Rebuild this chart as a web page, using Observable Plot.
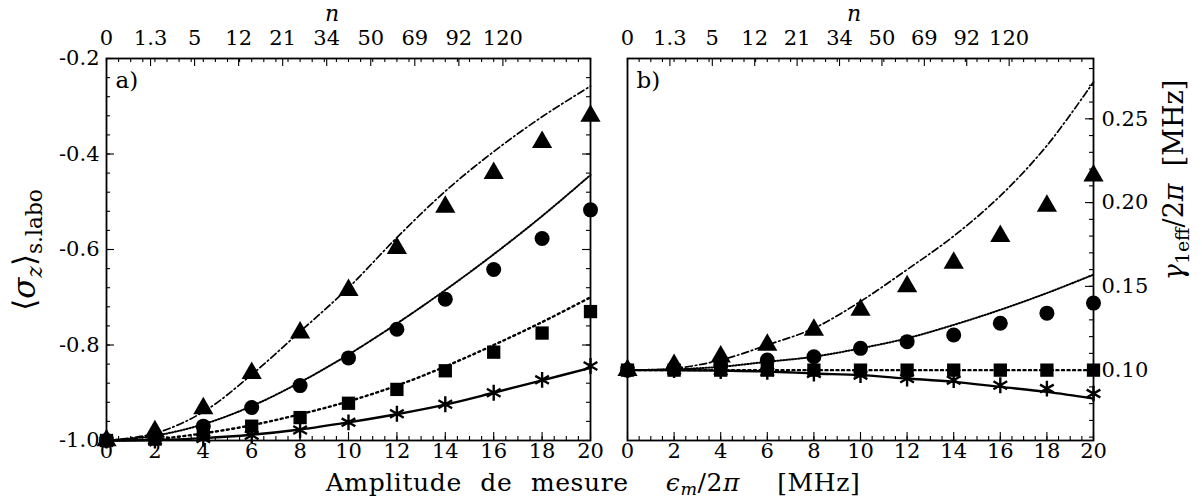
<!DOCTYPE html>
<html><head><meta charset="utf-8">
<script src="https://cdn.jsdelivr.net/npm/d3@7"></script>
<script src="https://cdn.jsdelivr.net/npm/@observablehq/plot@0.6"></script>
<style>
body{margin:0;background:#fff;}
#wrap{position:relative;width:1202px;height:498px;font-family:"DejaVu Serif",serif;color:#000;overflow:hidden;}
.abs{position:absolute;white-space:nowrap;line-height:1;}
.panel{position:absolute;top:0;}
.sb{font-size:0.7em;position:relative;top:0.2em;}
</style></head><body><div id="wrap"></div>
<script>
// ---- data ----
const eps = [0, 2, 4, 6, 8, 10, 12, 14, 16, 18, 20];
const nLabels = ["0", "1.3", "5", "12", "21", "34", "50", "69", "92", "120"];
const nPos = [0, 1.82, 3.64, 5.46, 7.28, 9.1, 10.92, 12.74, 14.56, 16.38];

// panel a : <sigma_z>
const aTri  = [-1.0, -0.981, -0.933, -0.859, -0.774, -0.685, -0.597, -0.511, -0.440, -0.375, -0.320];
const aCirc = [-1.0, -0.995, -0.970, -0.931, -0.885, -0.827, -0.767, -0.704, -0.642, -0.577, -0.517];
const aSq   = [-1.0, -0.997, -0.985, -0.970, -0.952, -0.922, -0.893, -0.854, -0.815, -0.775, -0.730];
const aStar = [-1.0, -1.0, -0.996, -0.989, -0.978, -0.962, -0.944, -0.924, -0.900, -0.873, -0.844];
const aTriFit  = [-1.0, -0.985, -0.940, -0.862, -0.772, -0.680, -0.575, -0.478, -0.395, -0.322, -0.258];
const aCircFit = [-1.0, -0.990, -0.966, -0.928, -0.878, -0.820, -0.755, -0.685, -0.610, -0.530, -0.444];
const aSqFit   = [-1.0, -0.997, -0.985, -0.968, -0.945, -0.918, -0.885, -0.845, -0.800, -0.752, -0.700];
const aStarFit = [-1.0, -0.999, -0.995, -0.988, -0.977, -0.962, -0.945, -0.925, -0.900, -0.874, -0.848];

// panel b : gamma_1eff / 2pi
const bTri  = [0.100, 0.103, 0.108, 0.115, 0.124, 0.136, 0.150, 0.164, 0.180, 0.198, 0.216];
const bCirc = [0.100, 0.101, 0.103, 0.106, 0.108, 0.113, 0.117, 0.121, 0.128, 0.134, 0.140];
const bSq   = [0.100, 0.100, 0.100, 0.100, 0.100, 0.100, 0.100, 0.100, 0.100, 0.100, 0.100];
const bStar = [0.100, 0.100, 0.0995, 0.099, 0.098, 0.097, 0.095, 0.094, 0.091, 0.089, 0.086];
const bTriFit  = [0.100, 0.101, 0.106, 0.115, 0.125, 0.141, 0.160, 0.180, 0.204, 0.234, 0.272];
const bCircFit = [0.100, 0.1005, 0.102, 0.105, 0.108, 0.113, 0.119, 0.127, 0.136, 0.146, 0.157];
const bSqFit   = [0.100, 0.100, 0.100, 0.100, 0.100, 0.100, 0.100, 0.100, 0.100, 0.100, 0.100];
const bStarFit = [0.100, 0.100, 0.0997, 0.0992, 0.098, 0.097, 0.095, 0.093, 0.090, 0.087, 0.083];

const aTicksY = [-1.0, -0.8, -0.6, -0.4, -0.2];
const bTicksY = [0.10, 0.15, 0.20, 0.25];

// ---- helpers ----
const FONT = "DejaVu Serif, serif";
const rows = ys => eps.map((x, i) => ({x, y: ys[i]}));
const range = (a, b, s) => d3.range(Math.round((b - a) / s) + 1).map(i => +(a + i * s).toFixed(4));

function panel(cfg) {
  const H = 466, top = 58, bottom = H - 440;
  const fw = cfg.width - cfg.ml - cfg.mr, fh = H - top - bottom;
  const [y0, y1] = cfg.ydomain;
  const minorX = range(0, 20, 0.5), majorX = eps;
  const minorY = range(cfg.yMinor[0], cfg.yMinor[1], cfg.yMinor[2]).filter(v => v >= y0 && v <= y1);
  const majorY = cfg.yTicks;
  const tx = (vals, len, side) => Plot.tickX(vals, {x: d => d, stroke: "black", strokeWidth: 1.1,
      insetTop: side === "bottom" ? fh - len : 0, insetBottom: side === "top" ? fh - len : 0});
  const ty = (vals, len, side) => Plot.tickY(vals, {y: d => d, stroke: "black", strokeWidth: 1.1,
      insetRight: side === "left" ? fw - len : 0, insetLeft: side === "right" ? fw - len : 0});
  const marks = [
    tx(minorX, 4, "bottom"), tx(majorX, 8, "bottom"),
    tx(minorX, 4, "top"), tx(nPos, 8, "top"),
  ];
  for (const side of cfg.ySides) marks.push(ty(minorY, 4, side), ty(majorY, 8, side));
  marks.push(
    Plot.line(rows(cfg.fits[0]), {x: "x", y: "y", curve: "catmull-rom", stroke: "black", strokeWidth: 1.7, strokeDasharray: "7,3,1.5,3"}),
    Plot.line(rows(cfg.fits[1]), {x: "x", y: "y", curve: "catmull-rom", stroke: "black", strokeWidth: 2, strokeDasharray: "1.2,1.8"}),
    Plot.line(rows(cfg.fits[2]), {x: "x", y: "y", curve: "catmull-rom", stroke: "black", strokeWidth: 2.4, strokeDasharray: "2,3.5"}),
    Plot.line(rows(cfg.fits[3]), {x: "x", y: "y", curve: "catmull-rom", stroke: "black", strokeWidth: 2.4}),
    Plot.dot(rows(cfg.pts[3]), {x: "x", y: "y", symbol: "asterisk", stroke: "black", strokeWidth: 2.4, r: 7.5}),
    Plot.dot(rows(cfg.pts[1]), {x: "x", y: "y", symbol: "circle", fill: "black", r: 7.5}),
    Plot.dot(rows(cfg.pts[0]), {x: "x", y: "y", symbol: "triangle", fill: "black", r: 7.5}),
    Plot.dot(rows(cfg.pts[2]), {x: "x", y: "y", symbol: "square", fill: "black", r: 7.5}),
    Plot.frame({stroke: "black", strokeWidth: 1.8}),
    Plot.axisX({anchor: "bottom", ticks: eps, tickSize: 0, tickPadding: 3, label: null, fontSize: 21, fontFamily: FONT}),
    Plot.axisX(nPos, {anchor: "top", tickSize: 0, tickPadding: 14, label: null, fontSize: 21, fontFamily: FONT,
      tickFormat: d => nLabels[nPos.indexOf(d)]}),
    Plot.axisY({anchor: cfg.yAnchor, ticks: majorY, tickSize: 0, tickPadding: cfg.yAnchor === "left" ? 7 : 8, label: null, fontSize: 21, fontFamily: FONT,
      tickFormat: d => d.toFixed(cfg.digits)}),
    Plot.text([cfg.tag], {frameAnchor: "top-left", text: d => d, dx: 9, dy: 13, fontSize: 23, fontFamily: FONT, textAnchor: "start"})
  );
  return Plot.plot({
    width: cfg.width, height: H,
    marginLeft: cfg.ml, marginRight: cfg.mr, marginTop: top, marginBottom: bottom,
    x: {domain: [0, 20]},
    y: {domain: cfg.ydomain},
    style: {fontFamily: FONT, fontSize: "21px", background: "transparent", color: "black", overflow: "visible"},
    marks
  });
}

const wrap = document.getElementById("wrap");
const pa = panel({width: 600, ml: 106, mr: 10, ydomain: [-1.0, -0.2], yTicks: aTicksY, yMinor: [-1.0, -0.2, 0.04],
  ySides: ["left", "right"], yAnchor: "left", digits: 1, tag: "a)",
  pts: [aTri, aCirc, aSq, aStar], fits: [aTriFit, aCircFit, aSqFit, aStarFit]});
const pb = panel({width: 602, ml: 27, mr: 109, ydomain: [0.058, 0.286], yTicks: bTicksY, yMinor: [0.06, 0.28, 0.01],
  ySides: ["right"], yAnchor: "right", digits: 2, tag: "b)",
  pts: [bTri, bCirc, bSq, bStar], fits: [bTriFit, bCircFit, bSqFit, bStarFit]});
pa.classList.add("panel"); pa.style.left = "0px";
pb.classList.add("panel"); pb.style.left = "600px";
wrap.appendChild(pa); wrap.appendChild(pb);

function label(html, css) {
  const d = document.createElement("div");
  d.className = "abs"; d.innerHTML = html; Object.assign(d.style, css); wrap.appendChild(d);
  return d;
}
label("<i>n</i>", {left: "325px", top: "3px", fontSize: "22px"});
label("<i>n</i>", {left: "847px", top: "3px", fontSize: "22px"});
label("Amplitude de mesure&nbsp; <i>ϵ<span class='sb'>m</span></i>/2<i>π</i>&nbsp; [MHz]",
  {left: "593px", top: "470px", fontSize: "25px", wordSpacing: "10px", letterSpacing: "0.6px", transform: "translateX(-50%)"});
label("⟨<i>σ<sub style='font-size:0.7em'>z</sub></i>⟩<sub style='font-size:0.7em'>s.labo</sub>",
  {left: "27px", top: "250px", fontSize: "31px", transform: "translate(-50%,-50%) rotate(-90deg)"});
label("<i>γ</i><sub style='font-size:0.7em'>1eff</sub>/2<i>π</i>&nbsp; [MHz]",
  {left: "1176px", top: "180px", fontSize: "27px", transform: "translate(-50%,-50%) rotate(-90deg)"});
</script></body></html>
